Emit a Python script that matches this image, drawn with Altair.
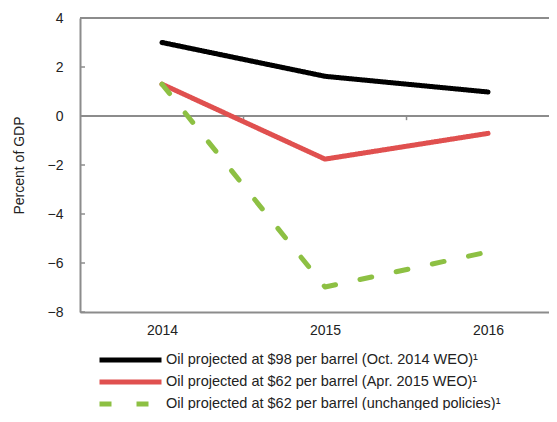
import altair as alt
import pandas as pd

years = [2014, 2015, 2016]
series_names = [
    "Oil projected at $98 per barrel (Oct. 2014 WEO)¹",
    "Oil projected at $62 per barrel (Apr. 2015 WEO)¹",
    "Oil projected at $62 per barrel (unchanged policies)¹",
]
oct2014 = [3.0, 1.62, 0.98]
apr2015 = [1.3, -1.76, -0.71]
unchanged = [1.3, -6.98, -5.55]
colors = ["#000000", "#e0504f", "#8dc043"]
dashes = [[1, 0], [1, 0], [12, 25]]
y_ticks = [-8, -6, -4, -2, 0, 2, 4]
category_boundaries = [2014.5, 2015.5]

rows = []
for name, vals in zip(series_names, [oct2014, apr2015, unchanged]):
    for yr, v in zip(years, vals):
        rows.append({"year": yr, "value": v, "series": name})
df = pd.DataFrame(rows)
ticks_df = pd.DataFrame({"t": y_ticks})
bound_df = pd.DataFrame({"b": category_boundaries})

FONT = "Liberation Sans"

x_scale = alt.Scale(domain=[2013.497, 2016.374], nice=False, zero=False)
y_scale = alt.Scale(domain=[-8, 4], nice=False)

lines = alt.Chart(df).mark_line(strokeWidth=5, strokeCap="round", strokeJoin="round").encode(
    x=alt.X("year:Q", scale=x_scale,
            axis=alt.Axis(values=years, format="d", title=None, grid=False, ticks=False,
                          domainColor="#8c8c8c", domainWidth=2, labelFontSize=14,
                          labelColor="#222222", labelFont=FONT, labelPadding=11)),
    y=alt.Y("value:Q", scale=y_scale,
            axis=alt.Axis(values=y_ticks, title="Percent of GDP", grid=False, ticks=False,
                          domainColor="#8c8c8c", domainWidth=2, labelFontSize=14,
                          labelColor="#222222", labelFont=FONT, labelPadding=17,
                          titleFont=FONT, titleFontSize=14, titleFontWeight="normal",
                          titleColor="#222222", titlePadding=21)),
    color=alt.Color("series:N", sort=series_names,
                    scale=alt.Scale(domain=series_names, range=colors),
                    legend=alt.Legend(orient="none", legendX=17, legendY=334, title=None,
                                      symbolType="stroke", symbolSize=3844,
                                      symbolStrokeWidth=5, labelFontSize=14.5,
                                      labelFont=FONT, labelColor="#222222",
                                      labelOffset=2, rowPadding=6, clipHeight=16,
                                      labelLimit=500)),
    strokeDash=alt.StrokeDash("series:N", sort=series_names,
                              scale=alt.Scale(domain=series_names, range=dashes),
                              legend=None),
)

top_rule = alt.Chart(ticks_df).mark_rule(color="#8c8c8c", strokeWidth=2).encode(
    y=alt.datum(4, scale=y_scale)
)
zero_rule = alt.Chart(ticks_df).mark_rule(color="#8c8c8c", strokeWidth=2).encode(
    y=alt.datum(0, scale=y_scale)
)
ytick_marks = alt.Chart(ticks_df).mark_rule(color="#8c8c8c", strokeWidth=1.5).encode(
    y=alt.Y("t:Q", scale=y_scale),
    x=alt.value(0),
    x2=alt.value(5),
)
zero_ticks = alt.Chart(bound_df).mark_rule(color="#8c8c8c", strokeWidth=1.5).encode(
    x=alt.X("b:Q", scale=x_scale),
    y=alt.datum(0, scale=y_scale),
    y2=alt.datum(-0.17),
)

chart = alt.layer(top_rule, zero_rule, ytick_marks, zero_ticks, lines).properties(
    width=469, height=294,
    autosize=alt.AutoSizeParams(type="none"),
    padding={"left": 72, "top": 10, "right": 0, "bottom": 98},
).configure_view(stroke=None)

chart.save("out.html", embed_options={"renderer": "svg", "actions": False})
